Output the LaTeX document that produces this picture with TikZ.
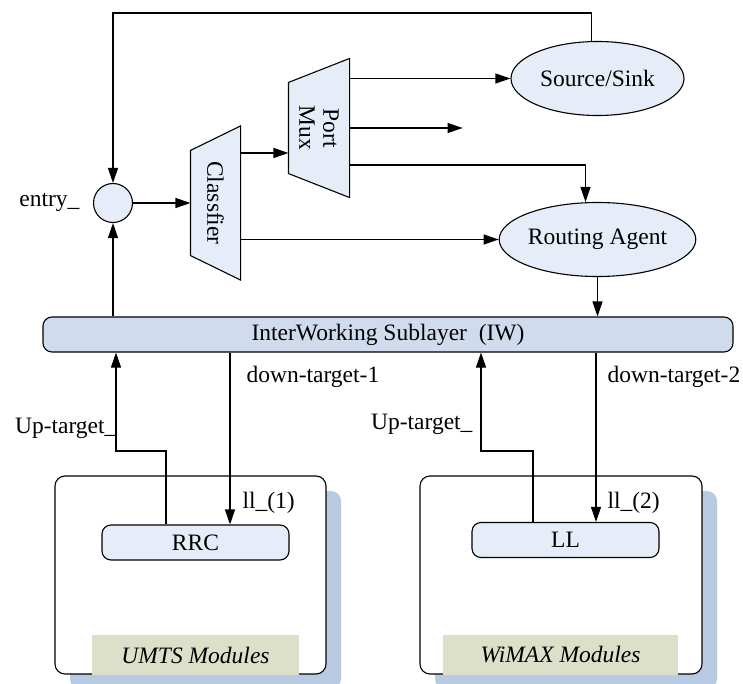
\documentclass[tikz,border=0pt]{standalone}
\usepackage{fontspec}
\setmainfont{Liberation Serif}
\newfontfamily\diagfont{Liberation Serif}
\usepackage{tikz}
\usetikzlibrary{arrows.meta, positioning, shapes.geometric, shadows}

\definecolor{nodefill}{HTML}{E6EDF8}
\definecolor{barfill}{HTML}{D0DCEE}
\definecolor{shadowblue}{HTML}{B8C9E2}
\definecolor{tagfill}{HTML}{DCE0C9}

\begin{document}
\begin{tikzpicture}[
    x=1pt, y=-1pt,
    line width=1.1pt,
    font=\diagfont\fontsize{23.5}{27}\selectfont,
    box/.style={draw, rounded corners=9pt, fill=nodefill, inner sep=0pt, minimum height=35pt},
    agent/.style={draw, ellipse, fill=nodefill, minimum width=173pt, minimum height=74pt, inner sep=0pt},
    frame/.style={inner sep=0pt},
    module/.style={draw, rounded corners=10pt, fill=white, minimum height=198pt,
        drop shadow={shadow xshift=15pt, shadow yshift=-15pt, fill=shadowblue, opacity=1}},
    tag/.style={fill=tagfill, inner sep=0pt, minimum height=40pt, font=\diagfont\fontsize{23.5}{27}\selectfont\itshape},
    lbl/.style={inner sep=0pt},
    line/.style={-{Triangle[length=15pt, width=10pt]}}
]
\useasboundingbox (0,0) rectangle (743,684);

% Modules
\node[module, minimum width=271pt] (umts) at (190.5,575) {};
\node[module, minimum width=282pt] (wimax) at (561,575) {};
\node[tag, minimum width=207pt] (umtstag) at (195.5,655) {UMTS Modules};
\node[tag, minimum width=235pt] (wimaxtag) at (560.5,655) {WiMAX Modules};
\node[box, minimum width=187pt] (rrc) at (195.5,542.5) {RRC};
\node[box, minimum width=187pt] (ll) at (565.5,540) {LL};

% Sublayer
\node[box, fill=barfill, minimum width=690pt] (iw) at (388,334.5) {InterWorking Sublayer\ \ (IW)};

% Entry point
\node[draw, circle, fill=nodefill, minimum size=39pt, inner sep=0pt] (entry) at (113,203) {};
\node[lbl, anchor=base east] (entrylbl) at (80,207) {entry\_};

% Classifier
\node[frame, minimum width=49pt, minimum height=153pt] (cls) at (215.5,203) {};
\draw[fill=nodefill] ([yshift=-24.5pt]cls.north west) -- (cls.north east)
    -- (cls.south east) -- ([yshift=24.5pt]cls.south west) -- cycle;
\node[rotate=-90] (clstext) at (cls) {Classfier};

% Port Mux
\node[frame, minimum width=60pt, minimum height=138pt] (pm) at (319,128) {};
\draw[fill=nodefill] ([yshift=-24pt]pm.north west) -- (pm.north east)
    -- (pm.south east) -- ([yshift=24pt]pm.south west) -- cycle;
\node[rotate=-90, align=center, font=\diagfont\fontsize{23.5}{24}\selectfont] (pmtext) at (pm) {Port\\Mux};

% Agents
\node[agent] (src) at (597.5,78.5) {Source/Sink};
\node[agent] (ra) at (597.5,239.5) {Routing Agent};

% Arrows
\coordinate (top) at (113,13);
\draw[line] ([xshift=-6pt]src.north) |- (top) -- (entry.north);
\draw[line] (iw.north -| entry) -- (entry.south);
\draw[line] (entry.east) -- (entry.east -| cls.west);
\coordinate (clsout) at ([yshift=50pt]cls.east);
\draw[line] (clsout) -- (clsout -| pm.west);
\draw[line] (pm.east |- src.west) -- (src.west);
\coordinate[right=113pt of pm.east] (pmout);
\draw[line] (pm.east) -- (pmout);
\coordinate (pmra) at ([yshift=-37pt]pm.east);
\draw[line] (pmra) -| ([xshift=-12pt]ra.north);
\draw[line] (cls.east |- ra.west) -- (ra.west);
\draw[line] (ra.south) -- (ra.south |- iw.north);

% UMTS links
\coordinate (up1) at (116,451);
\draw[line] ([xshift=-29.5pt]rrc.north) |- (up1) -- (up1 |- iw.south);
\draw[line] ([xshift=34.5pt]rrc.north |- iw.south) -- ([xshift=34.5pt]rrc.north);

% WiMAX links
\coordinate (up2) at (481,451);
\draw[line] ([xshift=-32.5pt]ll.north) |- (up2) -- (up2 |- iw.south);
\draw[line] ([xshift=30.5pt]ll.north |- iw.south) -- ([xshift=30.5pt]ll.north);

% Labels
\node[lbl, anchor=base east] (uplbl1) at (117,433) {Up-target\_};
\node[lbl, anchor=base west] (downlbl1) at (246,382) {down-target-1};
\node[lbl, anchor=base west] (lllbl1) at (242,508) {ll\_(1)};
\node[lbl, anchor=base east] (uplbl2) at (473,429) {Up-target\_};
\node[lbl, anchor=base west] (downlbl2) at (607,382) {down-target-2};
\node[lbl, anchor=base west] (lllbl2) at (607,508) {ll\_(2)};

\end{tikzpicture}
\end{document}
